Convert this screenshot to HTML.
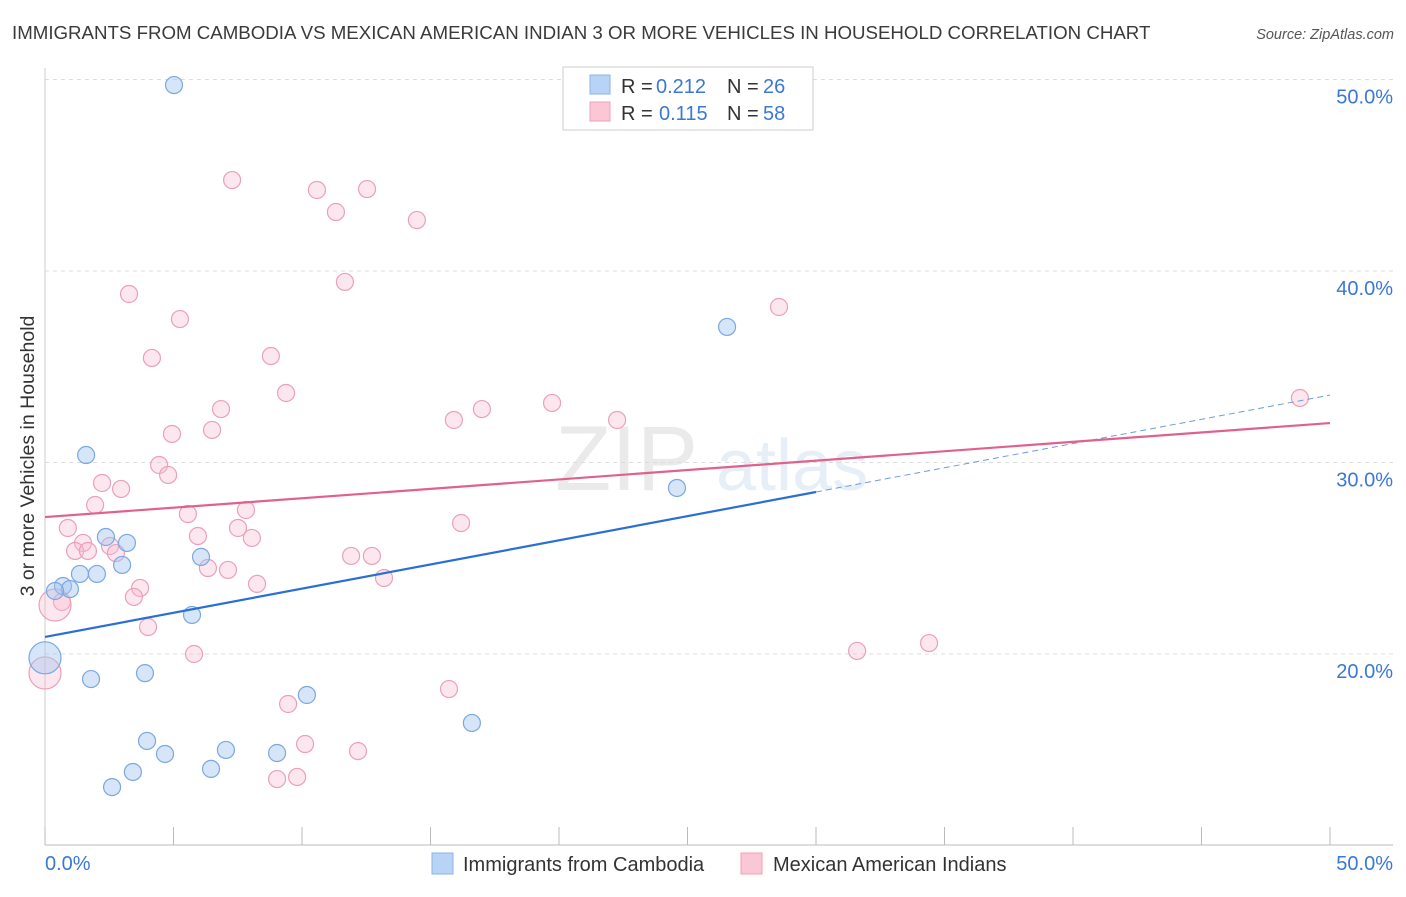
<!DOCTYPE html>
<html><head><meta charset="utf-8"><style>
body{margin:0;background:#fff;font-family:"Liberation Sans",sans-serif;}
svg text{font-family:"Liberation Sans",sans-serif;}
</style></head><body>
<svg id="chart" width="1406" height="892" viewBox="0 0 1406 892" xmlns="http://www.w3.org/2000/svg">
<text x="12" y="39" font-size="18.7" fill="#3a3a3a">IMMIGRANTS FROM CAMBODIA VS MEXICAN AMERICAN INDIAN 3 OR MORE VEHICLES IN HOUSEHOLD CORRELATION CHART</text>
<text x="1394" y="39" font-size="14.5" fill="#555" text-anchor="end" font-style="italic">Source: ZipAtlas.com</text>
<g opacity="0.13">
<text x="555" y="490" font-size="92" font-family="Liberation Serif" fill="#666">ZIP</text>
<text x="716" y="490" font-size="72" fill="#4a7fd0">atlas</text>
</g>
<g id="grid"></g>
<g id="axes"></g>
<g id="trends"></g>
<g id="points"></g>
<text transform="translate(34,456) rotate(-90)" font-size="19.5" fill="#333" text-anchor="middle">3 or more Vehicles in Household</text>
<g>
<rect x="563" y="67" width="250" height="63" fill="#fff" stroke="#ccc"/>
<rect x="590" y="75" width="20" height="19" fill="#b8d3f5" stroke="#8ab3e8"/>
<rect x="590" y="102" width="20" height="19" fill="#fbc6d6" stroke="#eda3bb"/>
<text x="621" y="93" font-size="20" fill="#333">R =</text>
<text x="656" y="93" font-size="20" fill="#3a78d4">0.212</text>
<text x="727" y="93" font-size="20" fill="#333">N =</text>
<text x="763" y="93" font-size="20" fill="#3a78d4">26</text>
<text x="621" y="120" font-size="20" fill="#333">R =</text>
<text x="659" y="120" font-size="20" fill="#3a78d4">0.115</text>
<text x="727" y="120" font-size="20" fill="#333">N =</text>
<text x="763" y="120" font-size="20" fill="#3a78d4">58</text>
</g>
<g>
<rect x="432" y="853" width="21" height="21" fill="#b8d3f5" stroke="#8ab3e8"/>
<text x="463" y="871" font-size="20" fill="#333">Immigrants from Cambodia</text>
<rect x="741" y="853" width="21" height="21" fill="#fbc6d6" stroke="#eda3bb"/>
<text x="773" y="871" font-size="20" fill="#333">Mexican American Indians</text>
</g>
</svg>
<script>
const blueX=[5.02,1.6,26.54,24.59,2.37,3.19,3.0,2.02,1.36,0.7,0.97,0.39,6.07,5.72,0,1.79,3.89,10.19,16.61,3.97,4.67,7.04,9.03,6.46,3.42,2.61];
const blueY=[49.71,30.39,37.08,28.67,26.11,25.8,24.65,24.18,24.18,23.55,23.39,23.29,25.07,22.04,19.8,18.69,19.0,17.86,16.4,15.46,14.78,14.99,14.83,14.0,13.84,13.05];
const blueBig=[14];
const pinkX=[7.28,10.58,12.53,11.32,14.47,11.67,3.27,28.56,5.25,4.16,8.79,9.38,6.85,15.91,17.0,19.73,22.26,48.83,4.94,6.5,4.44,4.79,2.22,2.96,1.95,5.56,7.82,0.89,7.51,5.95,8.05,1.48,2.53,1.17,1.67,2.76,16.19,11.91,12.72,6.34,7.12,13.19,8.25,3.7,3.46,0.66,0.39,4.01,5.8,31.6,34.4,0,9.46,15.72,10.12,12.18,9.03,9.81];
const pinkY=[44.75,44.23,44.28,43.08,42.66,39.43,38.8,38.12,37.49,35.46,35.56,33.63,32.79,32.22,32.79,33.11,32.22,33.37,31.49,31.7,29.87,29.35,28.93,28.62,27.78,27.31,27.52,26.58,26.58,26.16,26.06,25.8,25.64,25.38,25.38,25.27,26.84,25.12,25.12,24.49,24.39,23.97,23.66,23.45,22.98,22.72,22.56,21.41,20.0,20.16,20.57,19.01,17.39,18.17,15.3,14.93,13.47,13.58];
const pinkBig=[46,51];
const blueTrend=[[0,20.89],[30,28.46]];
const blueTrendDash=[[30,28.46],[50,33.52]];
const pinkTrend=[[0,27.15],[50,32.06]];
const yTicks=[20,30,40,50];
const yTickLabels=["20.0%","30.0%","40.0%","50.0%"];
const xTickLabels=["0.0%","50.0%"];
const NS="http://www.w3.org/2000/svg";
const xs=v=>45+v*25.7;
const ys=v=>654-(v-20)*19.15;
function mk(tag,parent,attrs){const e=document.createElementNS(NS,tag);for(const k in attrs)e.setAttribute(k,attrs[k]);parent.appendChild(e);return e;}
const grid=document.getElementById('grid'),axes=document.getElementById('axes'),tr=document.getElementById('trends'),pts=document.getElementById('points');
yTicks.forEach((t,i)=>{
 const l=mk('line',grid,{x1:45,x2:1393,y1:ys(t),y2:ys(t),stroke:'#ddd','stroke-dasharray':'4,4'});
 
 
 const tx=mk('text',axes,{x:1393,y:ys(t)+24,'font-size':20,fill:'#3a78d4','text-anchor':'end'});
 tx.textContent=yTickLabels[i];
 
 
});
const ax=mk('line',axes,{x1:45,x2:1393,y1:845,y2:845,stroke:'#bbb'});


const ay=mk('line',axes,{x1:45,x2:45,y1:68,y2:845,stroke:'#ccc'});


for(let i=0;i<=10;i++){
 const tk=mk('line',axes,{x1:xs(i*5),x2:xs(i*5),y1:827,y2:845,stroke:'#bbb'});
 
 
}
[[0,'start'],[50,'end']].forEach((d,i)=>{
 const t=mk('text',axes,{x:d[0]==0?45:1393,y:870,'font-size':20,fill:'#3a78d4','text-anchor':d[1]});
 t.textContent=xTickLabels[i];
 
 
});
function drawPts(X,Y,big,fill,stroke,name){
 X.forEach((x,i)=>{
  const c=mk('circle',pts,{cx:xs(x),cy:ys(Y[i]),r:big.includes(i)?16:8.5,fill:fill,stroke:stroke,'stroke-width':1.2});
  
  
 });
}
drawPts(pinkX,pinkY,pinkBig,'rgba(248,185,205,0.35)','#eaa0b9','pink-point');
drawPts(blueX,blueY,blueBig,'rgba(165,198,240,0.45)','#7ba8e2','blue-point');
function line(p,stroke,w,dash,name){
 const l=mk('line',tr,{x1:xs(p[0][0]),y1:ys(p[0][1]),x2:xs(p[1][0]),y2:ys(p[1][1]),stroke:stroke,'stroke-width':w});
 if(dash)l.setAttribute('stroke-dasharray',dash);
 
 
}
line(blueTrend,'#2a6fd4',2.2,null,'blue-trend-line');
line(blueTrendDash,'#6d9be0',1,'6,4','blue-trend-extension');
line(pinkTrend,'#e0628c',2.2,null,'pink-trend-line');
tr.parentNode.appendChild(tr);
</script>
</body></html>
